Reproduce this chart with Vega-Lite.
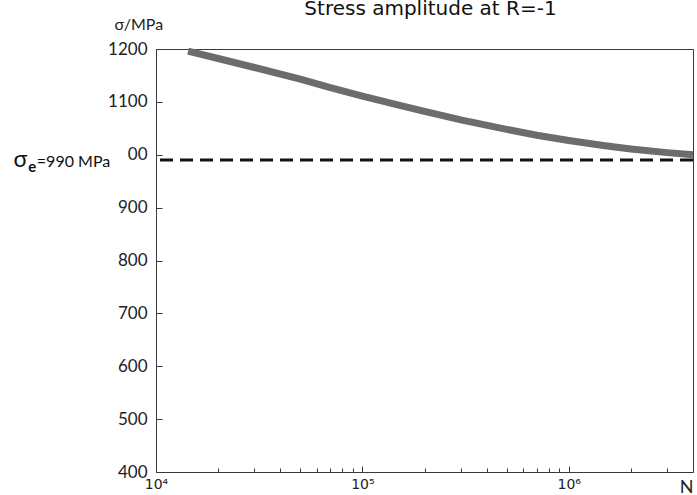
{
  "$schema": "https://vega.github.io/schema/vega-lite/v6.json",
  "width": 537,
  "height": 423,
  "autosize": {"type": "none"},
  "padding": {"left": 156, "top": 49, "right": 4, "bottom": 23},
  "background": "white",
  "config": {
    "view": {"stroke": "#3a3a3a", "strokeWidth": 1},
    "font": "Lato"
  },
  "title": {
    "text": "Stress amplitude at R=-1",
    "font": "DejaVu Sans",
    "fontSize": 20,
    "fontWeight": "normal",
    "color": "#111111",
    "anchor": "middle",
    "baseline": "alphabetic",
    "offset": -19,
    "dx": 6
  },
  "datasets": {
    "curve": [
      {"N": 14300, "sigma": 1196},
      {"N": 20000, "sigma": 1182},
      {"N": 30000, "sigma": 1165},
      {"N": 50000, "sigma": 1143},
      {"N": 70000, "sigma": 1127},
      {"N": 100000, "sigma": 1111},
      {"N": 150000, "sigma": 1094},
      {"N": 200000, "sigma": 1082},
      {"N": 300000, "sigma": 1066},
      {"N": 500000, "sigma": 1048},
      {"N": 700000, "sigma": 1037},
      {"N": 1000000, "sigma": 1027},
      {"N": 1500000, "sigma": 1017},
      {"N": 2000000, "sigma": 1011},
      {"N": 3000000, "sigma": 1004},
      {"N": 4000000, "sigma": 1000}
    ],
    "endurance": [{"sigma": 990, "sym": "σ", "sub": "e", "rest": "=990 MPa"}]
  },
  "layer": [
    {
      "data": {"name": "curve"},
      "mark": {"type": "line", "color": "#6b6c6f", "strokeWidth": 7, "strokeCap": "butt"},
      "encoding": {
        "x": {
          "field": "N",
          "type": "quantitative",
          "scale": {"type": "log", "domain": [10000, 4000000], "nice": false},
          "axis": {
            "values": [10000, 20000, 30000, 40000, 50000, 60000, 70000, 80000, 90000, 100000, 200000, 300000, 400000, 500000, 600000, 700000, 800000, 900000, 1000000, 2000000, 3000000],
            "labelExpr": "datum.value == 10000 ? '10⁴' : datum.value == 100000 ? '10⁵' : datum.value == 1000000 ? '10⁶' : ''",
            "grid": false,
            "domainColor": "#3a3a3a",
            "tickColor": "#3a3a3a",
            "tickSize": {"condition": {"test": "datum.value == 10000 || datum.value == 100000 || datum.value == 1000000", "value": -6}, "value": -4},
            "labelPadding": 11,
            "labelFont": "DejaVu Sans",
            "labelFontSize": 14,
            "labelColor": "#222222",
            "labelFlush": false,
            "title": "N",
            "titleFont": "Lato",
            "titleFontSize": 18,
            "titleFontWeight": "normal",
            "titleColor": "#222222",
            "titleAnchor": "end",
            "titleAlign": "right",
            "titleBaseline": "alphabetic",
            "titleX": 537,
            "titleY": 20
          }
        },
        "y": {
          "field": "sigma",
          "type": "quantitative",
          "scale": {"domain": [400, 1200], "nice": false, "zero": false},
          "axis": {
            "values": [400, 500, 600, 700, 800, 900, 1000, 1100, 1200],
            "format": "d",
            "labelExpr": "datum.value == 1000 ? '00' : datum.label",
            "grid": false,
            "domainColor": "#3a3a3a",
            "tickColor": "#3a3a3a",
            "tickSize": -6,
            "labelPadding": 15,
            "labelFont": "Lato",
            "labelFontSize": 17,
            "labelColor": "#222222",
            "labelFlush": false,
            "title": "σ/MPa",
            "titleFont": "Lato",
            "titleFontSize": 16,
            "titleFontWeight": "normal",
            "titleColor": "#222222",
            "titleAngle": 0,
            "titleAlign": "left",
            "titleBaseline": "middle",
            "titleX": -42,
            "titleY": -25
          }
        }
      }
    },
    {
      "data": {"name": "endurance"},
      "mark": {"type": "rule", "color": "#111111", "strokeWidth": 3, "strokeDash": [13, 7]},
      "encoding": {
        "y": {"field": "sigma", "type": "quantitative"}
      }
    },
    {
      "data": {"name": "endurance"},
      "mark": {"type": "text", "align": "right", "baseline": "middle", "font": "Lato", "fontSize": 16, "color": "#111111", "dy": 2},
      "encoding": {
        "x": {"datum": 6000},
        "y": {"field": "sigma", "type": "quantitative"},
        "text": {"field": "rest"}
      }
    },
    {
      "data": {"name": "endurance"},
      "mark": {"type": "text", "align": "right", "baseline": "middle", "font": "Lato", "fontSize": 15, "fontWeight": "bold", "color": "#111111", "dx": -74, "dy": 7},
      "encoding": {
        "x": {"datum": 6000},
        "y": {"field": "sigma", "type": "quantitative"},
        "text": {"field": "sub"}
      }
    },
    {
      "data": {"name": "endurance"},
      "mark": {"type": "text", "align": "right", "baseline": "middle", "font": "Lato", "fontSize": 23, "color": "#111111", "dx": -83, "dy": 0},
      "encoding": {
        "x": {"datum": 6000},
        "y": {"field": "sigma", "type": "quantitative"},
        "text": {"field": "sym"}
      }
    }
  ]
}
